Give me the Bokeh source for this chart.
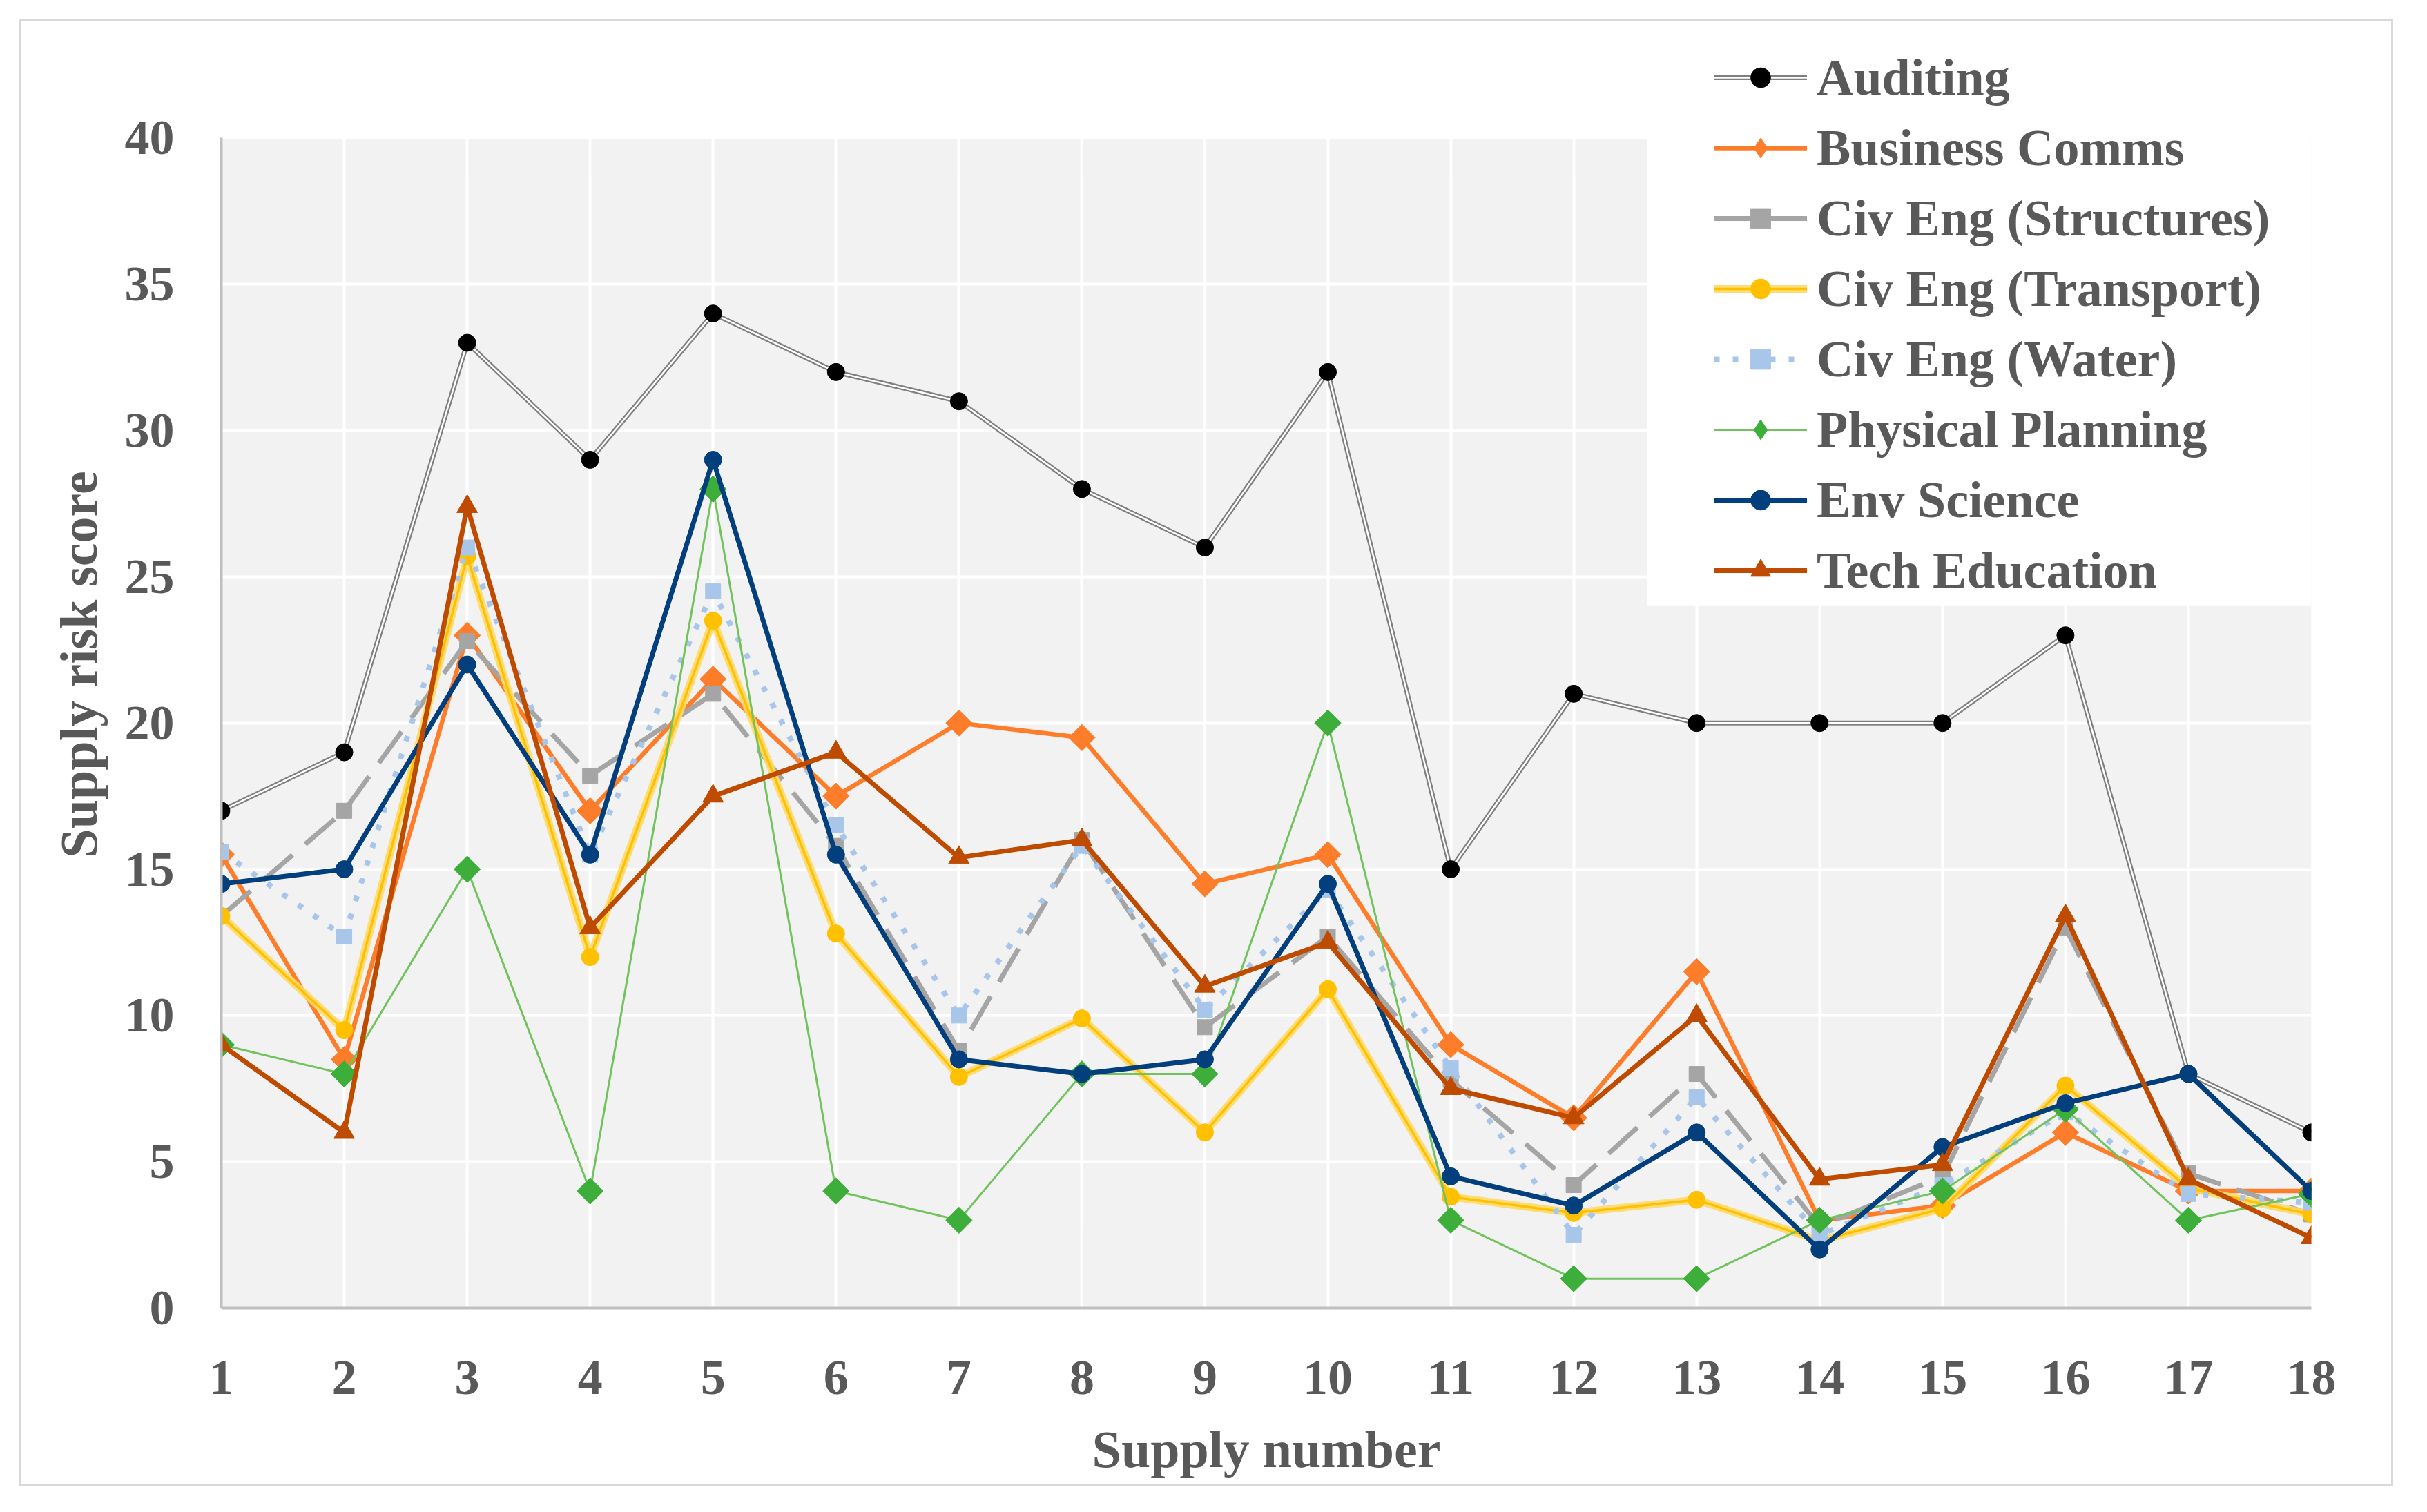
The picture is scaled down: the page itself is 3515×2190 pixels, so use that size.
import numpy as np
from bokeh.plotting import figure
from bokeh.models import FixedTicker, Legend, LegendItem, BoxAnnotation, ColumnDataSource
from bokeh.embed import file_html
from bokeh.resources import INLINE

# ---------------- data ----------------
supply = list(range(1, 19))
auditing = [17, 19, 33, 29, 34, 32, 31, 28, 26, 32, 15, 21, 20, 20, 20, 23, 8, 6]
business_comms = [15.5, 8.5, 23, 17, 21.5, 17.5, 20, 19.5, 14.5, 15.5, 9, 6.5, 11.5, 3, 3.5, 6, 4, 4]
civ_structures = [13.4, 17, 22.8, 18.2, 21, 15.8, 8.8, 16, 9.6, 12.7, 7.8, 4.2, 8, 2.8, 4.5, 13, 4.6, 3.2]
civ_transport = [13.4, 9.5, 25.7, 12, 23.5, 12.8, 7.9, 9.9, 6, 10.9, 3.8, 3.25, 3.7, 2.3, 3.4, 7.6, 4.1, 3.2]
civ_water = [15.6, 12.7, 26, 15.5, 24.5, 16.5, 10, 15.8, 10.2, 14.3, 8.2, 2.5, 7.2, 2.5, 4.2, 6.7, 3.9, 3.6]
physical_planning = [9, 8, 15, 4, 28, 4, 3, 8, 8, 20, 3, 1, 1, 3, 4, 6.8, 3, 3.9]
env_science = [14.5, 15, 22, 15.5, 29, 15.5, 8.5, 8, 8.5, 14.5, 4.5, 3.5, 6, 2, 5.5, 7, 8, 4]
tech_education = [9, 6, 27.4, 13, 17.5, 19, 15.4, 16, 11, 12.5, 7.5, 6.5, 10, 4.4, 4.9, 13.4, 4.4, 2.4]

series_names = ["Auditing", "Business Comms", "Civ Eng (Structures)", "Civ Eng (Transport)",
                "Civ Eng (Water)", "Physical Planning", "Env Science", "Tech Education"]
y_ticks = [0, 5, 10, 15, 20, 25, 30, 35, 40]
y_min, y_max = 0, 40

FONT = "Liberation Serif"
TXT = "#595959"

# frame reaches the top of the figure so the legend (inside the frame) is not clipped;
# the plotted area (gray) covers 0..40 only
p = figure(width=3439, height=2125, x_range=(1, 18), y_range=(0, 44.0),
           output_backend="svg", toolbar_location=None,
           min_border_left=290, min_border_right=122, min_border_top=0, min_border_bottom=261)
p.styles = {"border": "3px solid #d9d9d9", "margin-left": "27px", "margin-top": "27px"}
p.background_fill_color = "white"
p.border_fill_color = "white"
p.outline_line_color = None

# gray plot area
p.add_layout(BoxAnnotation(left=1, right=18, bottom=y_min, top=y_max,
                           fill_color="#f2f2f2", fill_alpha=1, line_color=None, level="image"))

p.xaxis.ticker = FixedTicker(ticks=supply)
p.yaxis.ticker = FixedTicker(ticks=y_ticks)
p.grid.grid_line_color = "white"
p.grid.grid_line_width = 4
p.grid.level = "underlay"
p.xgrid.bounds = (y_min, y_max)
p.yaxis.bounds = (y_min, y_max)

for ax in (p.xaxis[0], p.yaxis[0]):
    ax.axis_line_color = "#bfbfbf"
    ax.axis_line_width = 4
    ax.major_tick_line_color = None
    ax.minor_tick_line_color = None
    ax.major_tick_in = 0
    ax.major_tick_out = 0
    ax.major_label_text_font = FONT
    ax.major_label_text_font_style = "bold"
    ax.major_label_text_font_size = "72px"
    ax.major_label_text_color = TXT
    ax.axis_label_text_font = FONT
    ax.axis_label_text_font_style = "bold"
    ax.axis_label_text_font_size = "76px"
    ax.axis_label_text_color = TXT

p.xaxis.axis_label = "Supply number"
p.yaxis.axis_label = "Supply risk score"
p.xaxis.major_label_standoff = 77
p.yaxis.major_label_standoff = 68
p.xaxis.axis_label_standoff = 35
p.yaxis.axis_label_standoff = 22

# white legend area inside the plot
p.add_layout(BoxAnnotation(left=12.6, right=18, bottom=24.0, top=y_max,
                           fill_color="white", fill_alpha=1, line_color=None, level="underlay"))

src = ColumnDataSource(dict(x=supply, aud=auditing, bus=business_comms, stru=civ_structures,
                            tra=civ_transport, wat=civ_water, phy=physical_planning,
                            env=env_science, tec=tech_education))

items = []
# Auditing: double line
r1 = p.line("x", "aud", source=src, line_color="#7f7f7f", line_width=7)
r2 = p.line("x", "aud", source=src, line_color="white", line_width=2.5)
r3 = p.scatter("x", "aud", source=src, marker="circle", size=25, fill_color="black", line_color="black")
items.append(LegendItem(label=series_names[0], renderers=[r1, r2, r3]))

# Business Comms
r1 = p.line("x", "bus", source=src, line_color="#fe7d2a", line_width=6.5)
r2 = p.scatter("x", "bus", source=src, marker="diamond", size=33,
               fill_color="#fe7d2a", line_color="#fe7d2a")   # legend glyph (covered by rotated squares)
p.scatter("x", "bus", source=src, marker="square", angle=np.pi / 4, size=27,
          fill_color="#fe7d2a", line_color="#fe7d2a")
items.append(LegendItem(label=series_names[1], renderers=[r1, r2]))

# Civ Eng (Structures)
r1 = p.line("x", "stru", source=src, line_color="#a5a5a5", line_width=7, line_dash="56 24")
r2 = p.scatter("x", "stru", source=src, marker="square", size=22,
               fill_color="#a5a5a5", line_color="#a5a5a5")
items.append(LegendItem(label=series_names[2], renderers=[r1, r2]))

# Civ Eng (Transport) - glow
r1 = p.line("x", "tra", source=src, line_color="#ffd966", line_width=11, line_alpha=0.9)
r2 = p.line("x", "tra", source=src, line_color="#ffc000", line_width=3.5)
r3 = p.scatter("x", "tra", source=src, marker="circle", size=25, fill_color="#ffc000", line_color="#ffc000")
items.append(LegendItem(label=series_names[3], renderers=[r1, r2, r3]))

# Civ Eng (Water)
r1 = p.line("x", "wat", source=src, line_color="#a8c6ea", line_width=8, line_dash="8 19")
r2 = p.scatter("x", "wat", source=src, marker="square", size=22,
               fill_color="#a8c6ea", line_color="#a8c6ea")
items.append(LegendItem(label=series_names[4], renderers=[r1, r2]))

# Physical Planning
r1 = p.line("x", "phy", source=src, line_color="#72c25e", line_width=3)
r2 = p.scatter("x", "phy", source=src, marker="diamond", size=33,
               fill_color="#3dae3a", line_color="#3dae3a")   # legend glyph (covered by rotated squares)
p.scatter("x", "phy", source=src, marker="square", angle=np.pi / 4, size=27,
          fill_color="#3dae3a", line_color="#3dae3a")
items.append(LegendItem(label=series_names[5], renderers=[r1, r2]))

# Env Science
r1 = p.line("x", "env", source=src, line_color="#023f7c", line_width=7)
r2 = p.scatter("x", "env", source=src, marker="circle", size=25, fill_color="#023f7c", line_color="#023f7c")
items.append(LegendItem(label=series_names[6], renderers=[r1, r2]))

# Tech Education
r1 = p.line("x", "tec", source=src, line_color="#bf4b00", line_width=7)
r2 = p.scatter("x", "tec", source=src, marker="triangle", size=30, fill_color="#bf4b00", line_color="#bf4b00")
items.append(LegendItem(label=series_names[7], renderers=[r1, r2]))

legend = Legend(items=items, location=(2162, 1017))
legend.background_fill_color = "white"
legend.background_fill_alpha = 1
legend.border_line_color = None
legend.padding = 6
legend.margin = 0
legend.spacing = 0
legend.glyph_width = 135
legend.glyph_height = 72
legend.label_height = 102
legend.label_standoff = 14
legend.label_text_font = FONT
legend.label_text_font_style = "bold"
legend.label_text_font_size = "74px"
legend.label_text_color = TXT
p.add_layout(legend, "center")

open("out.html", "w").write(file_html(p, INLINE))
